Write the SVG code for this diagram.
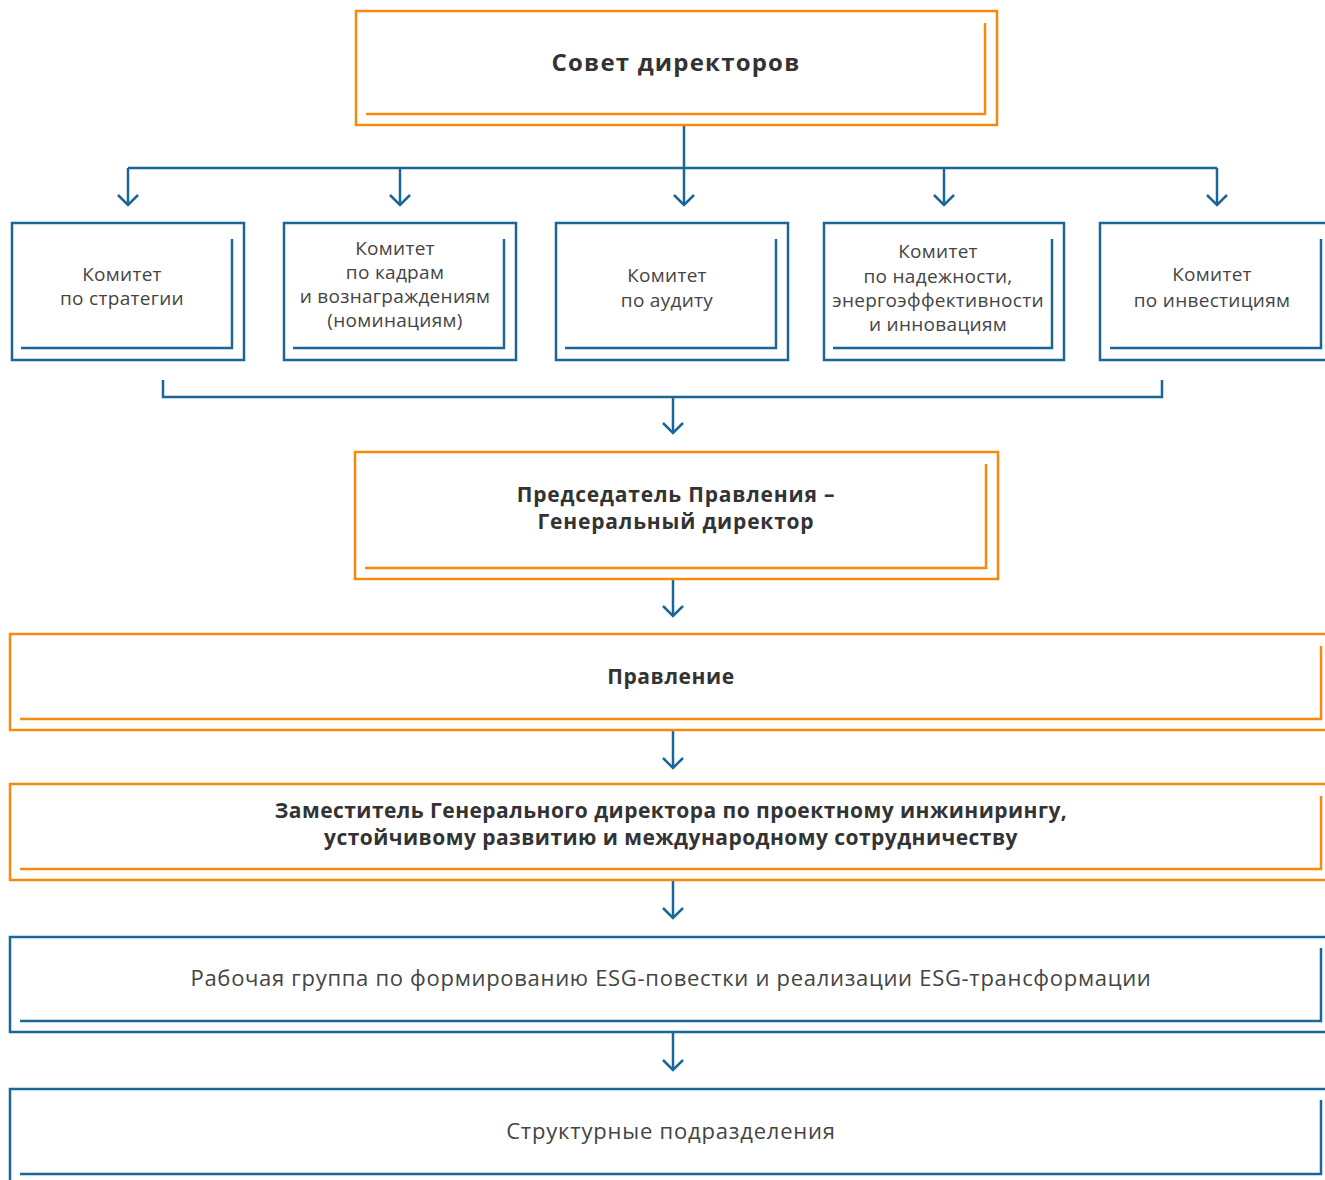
<svg xmlns="http://www.w3.org/2000/svg" width="1325" height="1180" viewBox="0 0 1325 1180">
<defs>
<style>
.o{fill:none;stroke:#F7890C;stroke-width:2.5}
.b{fill:none;stroke:#1A6699;stroke-width:2.5}
.c{fill:none;stroke:#1A6699;stroke-width:2.5}
.tb{font-family:"Open Sans","DejaVu Sans",sans-serif;font-weight:700;fill:#333;text-anchor:middle}
.tr{font-family:"Open Sans","DejaVu Sans",sans-serif;font-weight:400;fill:#444;text-anchor:middle}
</style>
<marker id="ah" markerUnits="userSpaceOnUse" orient="auto" refX="0" refY="0" markerWidth="20" markerHeight="20" overflow="visible">
<path d="M-10,-10 L0,0 L-10,10" fill="none" stroke="#1A6699" stroke-width="2.5"/>
</marker>
</defs>
<rect width="1325" height="1180" fill="#fff"/>

<g id="connectors">
<path class="c" d="M684,125 V168 M128,168 H1217"/>
<path class="c" d="M128,168 V205" marker-end="url(#ah)"/>
<path class="c" d="M400,168 V205" marker-end="url(#ah)"/>
<path class="c" d="M684,168 V205" marker-end="url(#ah)"/>
<path class="c" d="M944,168 V205" marker-end="url(#ah)"/>
<path class="c" d="M1217,168 V205" marker-end="url(#ah)"/>
<path class="c" d="M163,380 V397 H1162 V380"/>
<path class="c" d="M673,397 V433" marker-end="url(#ah)"/>
<path class="c" d="M673,580 V616" marker-end="url(#ah)"/>
<path class="c" d="M673,731 V768" marker-end="url(#ah)"/>
<path class="c" d="M673,881 V918" marker-end="url(#ah)"/>
<path class="c" d="M673,1033 V1070" marker-end="url(#ah)"/>
</g>

<g id="board">
<rect class="o" x="356" y="11" width="641" height="114"/>
<path class="o" d="M366,114 H985 V23"/>
<text class="tb" x="676" y="71" font-size="24" letter-spacing="1.2">Совет директоров</text>
</g>

<g id="com1">
<rect class="b" x="12" y="223" width="232" height="137"/>
<path class="b" d="M21,348 H232 V239"/>
<text class="tr" font-size="19" letter-spacing="0.3"><tspan x="122" y="281">Комитет</tspan><tspan x="122" y="305">по стратегии</tspan></text>
</g>
<g id="com2">
<rect class="b" x="284" y="223" width="232" height="137"/>
<path class="b" d="M293,348 H504 V239"/>
<text class="tr" font-size="19" letter-spacing="0.3"><tspan x="395" y="255">Комитет</tspan><tspan x="395" y="279">по кадрам</tspan><tspan x="395" y="303">и вознаграждениям</tspan><tspan x="395" y="327">(номинациям)</tspan></text>
</g>
<g id="com3">
<rect class="b" x="556" y="223" width="232" height="137"/>
<path class="b" d="M565,348 H776 V239"/>
<text class="tr" font-size="19" letter-spacing="0.3"><tspan x="667" y="282">Комитет</tspan><tspan x="667" y="307">по аудиту</tspan></text>
</g>
<g id="com4">
<rect class="b" x="824" y="223" width="240" height="137"/>
<path class="b" d="M833,348 H1052 V239"/>
<text class="tr" font-size="19" letter-spacing="0.3"><tspan x="938" y="258">Комитет</tspan><tspan x="938" y="283">по надежности,</tspan><tspan x="938" y="307">энергоэффективности</tspan><tspan x="938" y="331">и инновациям</tspan></text>
</g>
<g id="com5">
<rect class="b" x="1100" y="223" width="240" height="137"/>
<path class="b" d="M1110,348 H1321 V239"/>
<text class="tr" font-size="19" letter-spacing="0.3"><tspan x="1212" y="281">Комитет</tspan><tspan x="1212" y="307">по инвестициям</tspan></text>
</g>

<g id="ceo">
<rect class="o" x="355" y="452" width="643" height="127"/>
<path class="o" d="M365,568 H986 V464"/>
<text class="tb" font-size="21" letter-spacing="0.8"><tspan x="676" y="502">Председатель Правления –</tspan><tspan x="676" y="529">Генеральный директор</tspan></text>
</g>

<g id="board-mgmt">
<rect class="o" x="10" y="634" width="1340" height="96"/>
<path class="o" d="M20,719 H1321 V646"/>
<text class="tb" x="671" y="684" font-size="21" letter-spacing="0.6">Правление</text>
</g>

<g id="deputy">
<rect class="o" x="10" y="784" width="1340" height="96"/>
<path class="o" d="M20,869 H1321 V796"/>
<text class="tb" font-size="21" letter-spacing="0.45"><tspan x="671" y="818">Заместитель Генерального директора по проектному инжинирингу,</tspan><tspan x="671" y="845">устойчивому развитию и международному сотрудничеству</tspan></text>
</g>

<g id="esg">
<rect class="b" x="10" y="937" width="1340" height="95"/>
<path class="b" d="M20,1021 H1321 V948"/>
<text class="tr" x="671" y="986" font-size="22" letter-spacing="0.7">Рабочая группа по формированию ESG-повестки и реализации ESG-трансформации</text>
</g>

<g id="units">
<rect class="b" x="10" y="1089" width="1340" height="120"/>
<path class="b" d="M20,1174 H1321 V1100"/>
<text class="tr" x="671" y="1139" font-size="22" letter-spacing="0.8">Структурные подразделения</text>
</g>
</svg>
